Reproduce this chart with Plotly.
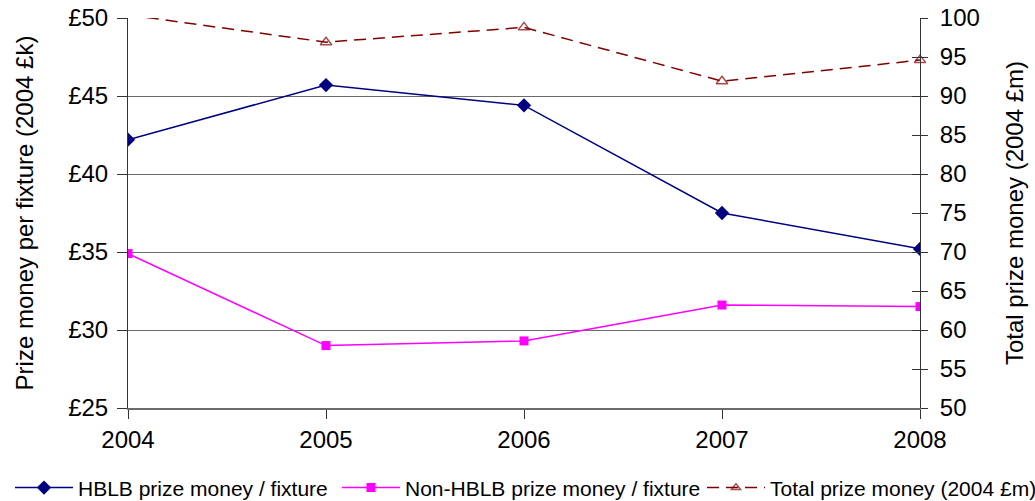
import plotly.graph_objects as go

years = [2004, 2005, 2006, 2007, 2008]
hblb = [42.2, 45.7, 44.4, 37.5, 35.2]
non_hblb = [34.9, 29.0, 29.3, 31.6, 31.5]
total = [100.4, 96.9, 98.8, 91.9, 94.6]

FONT = "Liberation Sans, Arial, sans-serif"
GRID = "#6b6b6b"
FS = 24
LEG_FS = 21

fig = go.Figure()
fig.add_trace(go.Scatter(
    x=years, y=hblb, name="HBLB prize money / fixture", mode="lines+markers",
    line=dict(color="#000080", width=1.5),
    marker=dict(symbol="diamond", size=11, color="#000080"),
    legend="legend",
))
fig.add_trace(go.Scatter(
    x=years, y=non_hblb, name="Non-HBLB prize money / fixture", mode="lines+markers",
    line=dict(color="#FF00FF", width=1.5),
    marker=dict(symbol="square", size=9, color="#FF00FF"),
    legend="legend2",
))
fig.add_trace(go.Scatter(
    x=years, y=total, name="Total prize money (2004 £m)", mode="lines+markers",
    yaxis="y2", cliponaxis=False,
    line=dict(color="#800000", width=1.5, dash="12px,7px"),
    marker=dict(symbol="triangle-up-open", size=[0, 10, 10, 10, 10], color="#800000",
                line=dict(width=1.5, color="#800000")),
    legend="legend3",
))
# invisible helper trace so the right axis can show inside ticks too
fig.add_trace(go.Scatter(x=[years[0]], y=[total[1]], yaxis="y3", showlegend=False,
                         mode="markers", marker=dict(opacity=0), hoverinfo="skip"))


def leg(x):
    return dict(orientation="h", xref="container", yref="container",
                x=x, xanchor="left", y=0.026, yanchor="middle",
                font=dict(size=LEG_FS, family=FONT), itemwidth=58,
                bgcolor="rgba(0,0,0,0)", borderwidth=0)


fig.update_layout(
    width=1035, height=501,
    margin=dict(l=128, r=115, t=18, b=93, autoexpand=False),
    paper_bgcolor="white", plot_bgcolor="white",
    font=dict(family=FONT, size=FS, color="black"),
    showlegend=True,
    legend=leg(10 / 1035),
    legend2=leg(337 / 1035),
    legend3=leg(702 / 1035),
    xaxis=dict(range=[2004, 2008], tickvals=years, ticktext=[str(y) for y in years],
               showgrid=False, zeroline=False, showline=True, linecolor=GRID, linewidth=2,
               ticks="outside", ticklen=9, tickcolor="#333", tickfont=dict(size=FS)),
    yaxis=dict(range=[25, 50], dtick=5, tickprefix="£", showgrid=True, gridcolor=GRID,
               gridwidth=1, zeroline=False, showline=True, linecolor="#333", linewidth=1,
               ticks="outside", ticklen=10, tickcolor="#333", tickfont=dict(size=FS),
               ticklabelstandoff=4,
               title=dict(text="Prize money per fixture (2004 £k)", font=dict(size=FS),
                          standoff=27)),
    yaxis2=dict(range=[50, 100], dtick=5, overlaying="y", side="right", showgrid=False,
                zeroline=False, showline=True, linecolor="#333", linewidth=1,
                ticks="outside", ticklen=7, tickcolor="#333", tickfont=dict(size=FS),
                ticklabelstandoff=7,
                title=dict(text="Total prize money (2004 £m)", font=dict(size=FS),
                           standoff=27)),
    yaxis3=dict(range=[50, 100], dtick=5, overlaying="y", side="right", showgrid=False,
                zeroline=False, showline=False, ticks="inside", ticklen=8,
                tickcolor="#333", showticklabels=False),
)

fig.write_html("out.html")
